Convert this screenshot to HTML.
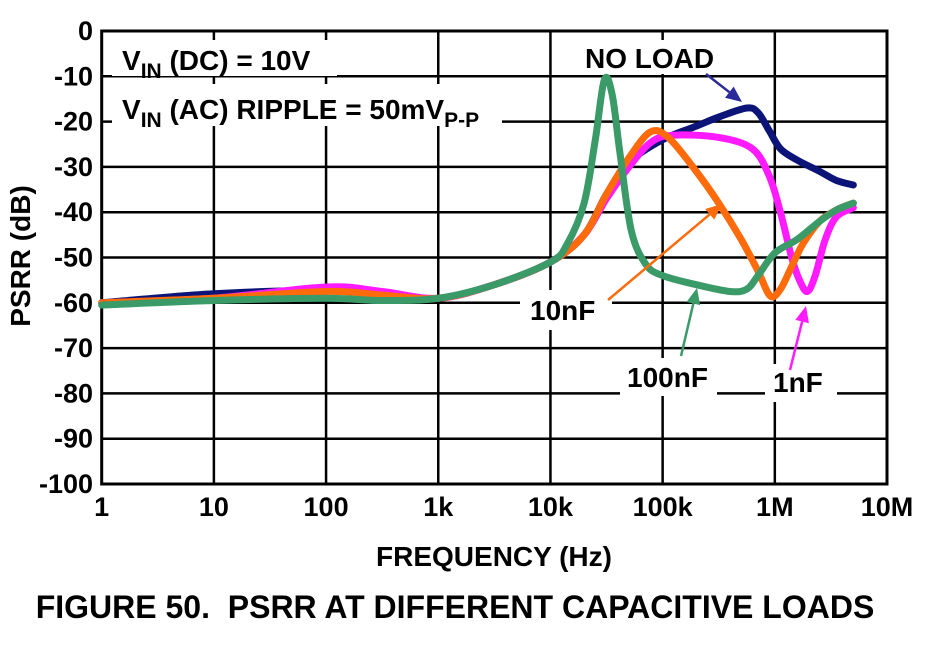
<!DOCTYPE html>
<html><head><meta charset="utf-8"><style>
body{margin:0;background:#fff;width:948px;height:646px;overflow:hidden}
svg{display:block;font-family:"Liberation Sans",Arial,sans-serif;font-weight:bold}
</style></head><body>
<svg id="chart" width="948" height="646" viewBox="0 0 948 646">
<g id="grid"></g>
<g id="series"></g>
<g id="labels"></g>
</svg>
<script>
const decadeLabels=["1","10","100","1k","10k","100k","1M","10M"];
const yTicks=[0,-10,-20,-30,-40,-50,-60,-70,-80,-90,-100];
const noLoadX=[0,1,2,2.5,3,3.5,4,4.3,4.5,4.7,5,5.3,5.5,5.75,5.85,5.95,6.05,6.2,6.4,6.55,6.7];
const noLoadY=[-60,-58,-57.3,-58.3,-59,-56,-51,-45,-36,-29,-24,-21,-19,-17,-18,-22,-26,-28.5,-31,-33,-34];
const nf1X=[0,1,2,2.5,3,3.5,4,4.3,4.5,4.7,4.9,5.1,5.5,5.8,5.95,6.05,6.15,6.22,6.29,6.36,6.45,6.55,6.7];
const nf1Y=[-60,-59,-56.5,-57.5,-59,-56,-51,-45,-37,-30,-24.5,-23,-23.5,-26,-32,-40,-50,-55,-57.5,-54,-46,-41,-39];
const nf10X=[0,1,2,2.5,3,3.5,4,4.3,4.5,4.7,4.89,5.05,5.3,5.5,5.7,5.85,5.96,6.05,6.15,6.25,6.4,6.55,6.7];
const nf10Y=[-60,-59,-57.5,-58.3,-59,-56,-51,-45,-36,-28,-22.3,-23.5,-31,-38,-46,-53,-58.5,-57,-52,-47,-42,-39.5,-38];
const nf100X=[0,1,2,2.5,3,3.5,4,4.15,4.3,4.4,4.48,4.55,4.62,4.72,4.85,5,5.3,5.6,5.75,5.85,6,6.2,6.4,6.55,6.7];
const nf100Y=[-60.5,-59.5,-59,-59.5,-59,-56,-51,-47,-38,-24,-10.8,-14,-27,-44,-51.5,-54,-56,-57.5,-57,-54,-49,-46,-42,-39.5,-38];
const NS="http://www.w3.org/2000/svg";
const L=101.7,R=887,T=31,B=484;
const dec=(R-L)/7;
const xs=v=>L+v*dec;
const ys=v=>T+(-v)*(B-T)/100;
function mk(tag,attrs,parent){const e=document.createElementNS(NS,tag);for(const k in attrs)e.setAttribute(k,attrs[k]);parent.appendChild(e);return e;}
const grid=document.getElementById('grid'),ser=document.getElementById('series'),lab=document.getElementById('labels');
for(let i=1;i<7;i++){const l=mk('line',{x1:xs(i),x2:xs(i),y1:T,y2:B,stroke:'#000','stroke-width':2.5},grid);

}
for(let i=1;i<10;i++){const l=mk('line',{x1:L,x2:R,y1:ys(yTicks[i]),y2:ys(yTicks[i]),stroke:'#000','stroke-width':2.5},grid);

}
const fr=mk('rect',{x:L,y:T,width:R-L,height:B-T,fill:'none',stroke:'#000','stroke-width':3},grid);


[[112,40,225,36],[112,84,390,42],[580,40,140,34],[520,290,92,40],[620,358,97,38],[765,364,72,38]].forEach(b=>{const r=mk('rect',{x:b[0],y:b[1],width:b[2],height:b[3],fill:'#fff'},grid);

});
function path(X,Y){const p=X.map((x,i)=>[xs(x),ys(Y[i])]);let d=`M${p[0][0]},${p[0][1]}`;
for(let i=0;i<p.length-1;i++){const p0=p[Math.max(0,i-1)],p1=p[i],p2=p[i+1],p3=p[Math.min(p.length-1,i+2)];
d+=` C${p1[0]+(p2[0]-p0[0])/6},${p1[1]+(p2[1]-p0[1])/6} ${p2[0]-(p3[0]-p1[0])/6},${p2[1]-(p3[1]-p1[1])/6} ${p2[0]},${p2[1]}`;}return d;}
const series=[[noLoadX,noLoadY,'#0c1478','series-no-load'],[nf1X,nf1Y,'#ff1aff','series-1nf'],[nf10X,nf10Y,'#ff6a0a','series-10nf'],[nf100X,nf100Y,'#3a9a68','series-100nf']];
series.forEach(s=>{const e=mk('path',{d:path(s[0],s[1]),fill:'none',stroke:s[2],'stroke-width':7,'stroke-linejoin':'round','stroke-linecap':'round'},ser);

});
function arrow(x1,y1,x2,y2,c,name){const g=mk('g',{},ser);


const a=Math.atan2(y2-y1,x2-x1),hl=16,hw=7;const bx=x2-hl*Math.cos(a),by=y2-hl*Math.sin(a);
mk('line',{x1,y1,x2:bx,y2:by,stroke:c,'stroke-width':2.5},g);
mk('polygon',{points:`${x2},${y2} ${bx+hw*Math.sin(a)},${by-hw*Math.cos(a)} ${bx-hw*Math.sin(a)},${by+hw*Math.cos(a)}`,fill:c},g);}
arrow(706,74,742,102,'#2a2a9a','no-load-arrow');
arrow(608,300,722,204,'#ff6a0a','10nf-arrow');
arrow(681,356,697,288,'#3a9a68','100nf-arrow');
arrow(790,370,806,306,'#ff1aff','1nf-arrow');
function txt(x,y,s,size,anchor,name){const t=mk('text',{x,y,'font-size':size,'text-anchor':anchor||'start'},lab);t.innerHTML=s;

return t;}
yTicks.forEach(v=>txt(93,ys(v)+9,String(v),27,'end','y-tick-label'));
decadeLabels.forEach((s,i)=>txt(xs(i),516,s,27,'middle','x-tick-label'));
const yt=txt(0,0,'PSRR (dB)',28,'middle','y-axis-title');yt.setAttribute('transform','translate(30,256) rotate(-90)');
txt(494,566,'FREQUENCY (Hz)',28,'middle','x-axis-title');
txt(455,618,'FIGURE 50.&#160; PSRR AT DIFFERENT CAPACITIVE LOADS',32,'middle','figure-caption');
txt(122,70,'V<tspan font-size="21" dy="8">IN</tspan><tspan dy="-8"> (DC) = 10V</tspan>',28,'start','vin-dc-note');
txt(122,119,'V<tspan font-size="21" dy="8">IN</tspan><tspan dy="-8"> (AC) RIPPLE = 50mV</tspan><tspan font-size="21" dy="8">P-P</tspan>',28,'start','vin-ac-note');
txt(585,68,'NO LOAD',28,'start','no-load-label');
txt(530,320,'10nF',28,'start','10nf-label');
txt(627,387,'100nF',28,'start','100nf-label');
txt(773,392,'1nF',28,'start','1nf-label');
</script>
</body></html>
